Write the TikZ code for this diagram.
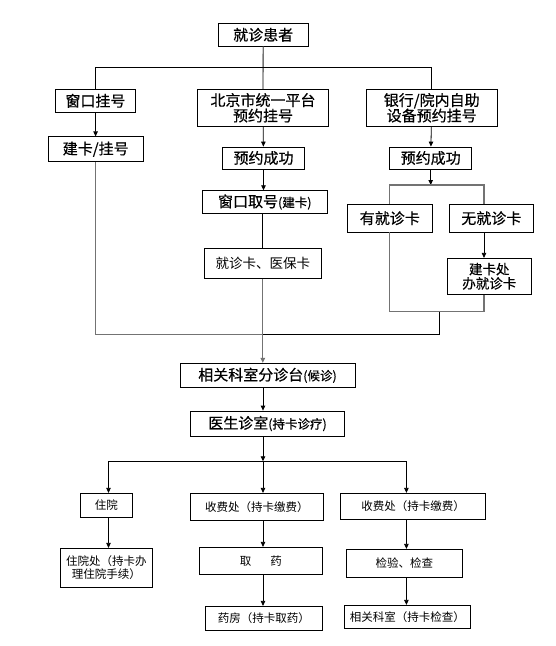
\documentclass[tikz,border=0pt]{standalone}
\usepackage{fontspec}
\setmainfont{Noto Sans CJK SC}
\newfontfamily\heavyfont{Noto Sans CJK SC}[FakeBold=0.5]
\usetikzlibrary{arrows.meta, positioning}
\newcommand{\parenfont}{\fontsize{12.5}{12.5}\selectfont}

\begin{document}
\begin{tikzpicture}[
        x=1pt, y=-1pt,
        box/.style={
            draw,
            line width=0.8pt,
            inner sep=0pt,
            align=center,
            font=\heavyfont\fontsize{15}{15.5}\selectfont
        },
        midbox/.style={box, font=\heavyfont\fontsize{13.5}{14.3}\selectfont},
        smallbox/.style={box, font=\normalfont\fontsize{11.5}{12.5}\selectfont},
        arrow/.style={
            -{Triangle[length=5pt, width=4.5pt]},
            line width=0.8pt
        },
        line/.style={line width=0.8pt},
        grayline/.style={draw=black!55, line width=1.3pt}
    ]
    \useasboundingbox (0,0) rectangle (556,646);

    \node[box, minimum width=90, minimum height=23] (patient) at (263.2,34.8) {就诊患者};
    \node[box, minimum width=80, minimum height=23] (window) at (95.4,100.8) {窗口挂号};
    \node[box, minimum width=131, minimum height=37] (beijing) at (263,107.8) {北京市统一平台\\预约挂号};
    \node[box, minimum width=131, minimum height=37] (bank) at (431.7,107.8) {银行/院内自助\\设备预约挂号};
    \node[box, minimum width=95, minimum height=25] (card) at (95.7,149.3) {建卡/挂号};
    \node[box, minimum width=82, minimum height=22] (booked) at (263.5,158) {预约成功};
    \node[box, minimum width=82, minimum height=22] (bookedb) at (430.7,158) {预约成功};
    \node[box, minimum width=125, minimum height=22.6] (fetch) at (264.8,202) {窗口取号{\parenfont(建卡)}};
    \node[midbox, font=\normalfont\fontsize{13.5}{14.3}\selectfont, minimum width=117, minimum height=30] (cards) at (262.8,263.3) {就诊卡、医保卡};
    \node[box, minimum width=85, minimum height=27.7] (hascard) at (389.8,218.2) {有就诊卡};
    \node[box, minimum width=84, minimum height=27.7] (nocard) at (491.3,218.2) {无就诊卡};
    \node[midbox, minimum width=84, minimum height=36] (newcard) at (489.3,276.3) {建卡处\\办就诊卡};
    \node[box, minimum width=175, minimum height=24] (triage) at (267.5,375.3) {相关科室分诊台{\parenfont(候诊)}};
    \node[box, minimum width=153.6, minimum height=25] (doctor) at (267.5,423.5) {医生诊室{\parenfont(持卡诊疗)}};
    \node[smallbox, minimum width=52, minimum height=24] (inpat) at (106.4,505.3) {住院};
    \node[smallbox, minimum width=133, minimum height=27] (paymid) at (256.9,506.8) {收费处（持卡缴费）};
    \node[smallbox, minimum width=145, minimum height=26] (payright) at (413,506.3) {收费处（持卡缴费）};
    \node[smallbox, minimum width=91.5, minimum height=39] (ward) at (106.3,567.8) {住院处（持卡办\\理住院手续）};
    \node[smallbox, minimum width=123, minimum height=27] (medicine) at (260.8,560.8) {取\hspace{19pt}药};
    \node[smallbox, minimum width=117, minimum height=24] (pharmacy) at (263.8,618.3) {药房（持卡取药）};
    \node[smallbox, minimum width=116, minimum height=28] (exam) at (404.4,563.3) {检验、检查};
    \node[smallbox, minimum width=126, minimum height=23] (examroom) at (407.3,616.8) {相关科室（持卡检查）};

    \coordinate (topbar) at (263,67.3);
    \coordinate (splitb) at (430.7,185);
    \coordinate (rcol) at (484,185);
    \coordinate (rjoin) at (484,311.7);
    \coordinate (joinb) at (439.3,311.7);
    \coordinate (collect) at (263,334.3);
    \coordinate (branch) at (263,461.3);
    \coordinate (colleft) at (108.5,461.3);
    \coordinate (colright) at (406.4,461.3);

    \draw[grayline] (patient) -- (beijing);
    \draw[line] (window.north) |- (topbar) -| (bank.north);
    \draw[arrow] (window) -- (card);
    \draw[arrow] (beijing) -- (booked);
    \draw[arrow] (bank) -- (bookedb);
    \draw[arrow] (booked) -- (booked |- fetch.north);
    \draw[line] (fetch.south -| cards) -- (cards);
    \draw[arrow] (bookedb) -- (splitb);
    \draw[grayline] (hascard.north) |- (rcol) -- (rcol |- nocard.north);
    \draw[arrow] (rcol |- nocard.south) -- (rcol |- newcard.north);
    \draw[grayline] (hascard.south) |- (rjoin) -- (rcol |- newcard.south);
    \draw[line] (joinb) |- (collect);
    \draw[grayline] (card.south) |- (collect);
    \draw[arrow, grayline] (cards) -- (cards |- triage.north);
    \draw[arrow] (triage.south -| branch) -- (doctor.north -| branch);
    \draw[arrow] (doctor.south -| branch) -- (branch);
    \draw[line] (colleft) -- (colright);
    \draw[arrow] (colleft) -- (colleft |- inpat.north);
    \draw[arrow] (branch) -- (branch |- paymid.north);
    \draw[arrow] (colright) -- (colright |- payright.north);
    \draw[arrow] (colleft |- inpat.south) -- (colleft |- ward.north);
    \draw[arrow] (paymid.south -| branch) -- (medicine.north -| branch);
    \draw[arrow] (medicine.south -| branch) -- (pharmacy.north -| branch);
    \draw[arrow] (colright |- payright.south) -- (colright |- exam.north);
    \draw[arrow] (colright |- exam.south) -- (colright |- examroom.north);

    \end{tikzpicture}
\end{document}
